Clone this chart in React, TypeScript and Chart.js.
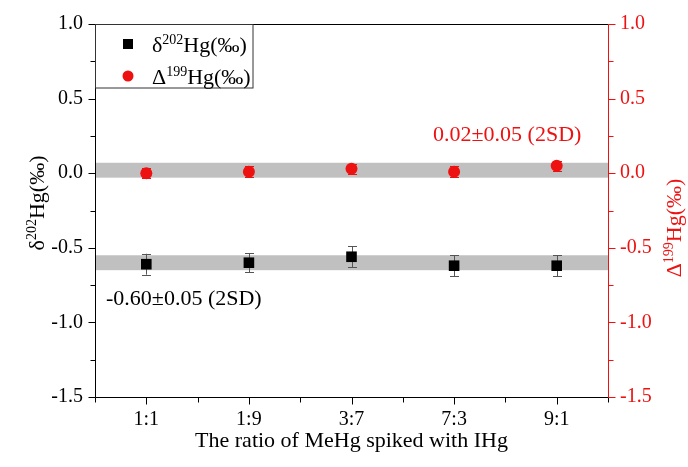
import React, { useEffect, useRef } from 'react';
import { Chart, registerables } from 'chart.js';

Chart.register(...registerables);

const categories = ['1:1', '1:9', '3:7', '7:3', '9:1'];
const d202Values = [-0.61, -0.60, -0.56, -0.62, -0.62];
const d202Errors = [0.07, 0.065, 0.07, 0.07, 0.07];
const D199Values = [0.0, 0.01, 0.03, 0.01, 0.05];
const D199Errors = [0.035, 0.035, 0.035, 0.035, 0.035];
const d202Band = [-0.65, -0.55];
const D199Band = [-0.03, 0.07];
const yMin = -1.5;
const yMax = 1.0;
const d202Note = '-0.60±0.05 (2SD)';
const D199Note = '0.02±0.05 (2SD)';

const FONT = '"Liberation Serif", "Times New Roman", serif';
const RED = '#ee1111';

type Part = { t: string; sup?: boolean };

function drawRich(ctx: CanvasRenderingContext2D, parts: Part[], x: number, y: number, size: number, color: string, align: 'left' | 'center') {
  const supSize = Math.round(size * 0.62);
  let total = 0;
  const widths = parts.map((p) => {
    ctx.font = `${p.sup ? supSize : size}px ${FONT}`;
    const w = ctx.measureText(p.t).width;
    total += w;
    return w;
  });
  let cx = align === 'center' ? x - total / 2 : x;
  ctx.fillStyle = color;
  ctx.textBaseline = 'alphabetic';
  ctx.textAlign = 'left';
  parts.forEach((p, i) => {
    ctx.font = `${p.sup ? supSize : size}px ${FONT}`;
    ctx.fillText(p.t, cx, p.sup ? y - size * 0.38 : y);
    cx += widths[i];
  });
}

const d202Label: Part[] = [{ t: 'δ' }, { t: '202', sup: true }, { t: 'Hg(‰)' }];
const D199Label: Part[] = [{ t: 'Δ' }, { t: '199', sup: true }, { t: 'Hg(‰)' }];

const drawPlugin = {
  id: 'custom',
  beforeDatasetsDraw(chart: any) {
    const { ctx, chartArea: a, scales } = chart;
    const y = scales.y;
    const y1 = scales.y1;
    const x = scales.x;
    ctx.save();
    ctx.fillStyle = '#c0c0c0';
    const b1t = y.getPixelForValue(d202Band[1]);
    const b1b = y.getPixelForValue(d202Band[0]);
    ctx.fillRect(a.left, b1t, a.right - a.left, b1b - b1t);
    const b2t = y1.getPixelForValue(D199Band[1]);
    const b2b = y1.getPixelForValue(D199Band[0]);
    ctx.fillRect(a.left, b2t, a.right - a.left, b2b - b2t);

    const bars = (vals: number[], errs: number[], sc: any, color: string) => {
      ctx.strokeStyle = color;
      ctx.lineWidth = 1;
      vals.forEach((v, i) => {
        const px = Math.round(x.getPixelForValue(i + 1)) + 0.5;
        const top = sc.getPixelForValue(v + errs[i]);
        const bot = sc.getPixelForValue(v - errs[i]);
        ctx.beginPath();
        ctx.moveTo(px, top);
        ctx.lineTo(px, bot);
        ctx.moveTo(px - 4.5, Math.round(top) + 0.5);
        ctx.lineTo(px + 4.5, Math.round(top) + 0.5);
        ctx.moveTo(px - 4.5, Math.round(bot) + 0.5);
        ctx.lineTo(px + 4.5, Math.round(bot) + 0.5);
        ctx.stroke();
      });
    };
    bars(d202Values, d202Errors, y, '#555555');
    bars(D199Values, D199Errors, y1, RED);
    ctx.restore();
  },
  afterDraw(chart: any) {
    const { ctx, chartArea: a, scales } = chart;
    const y = scales.y;
    const y1 = scales.y1;
    const x = scales.x;
    ctx.save();
    ctx.lineWidth = 1;
    ctx.strokeStyle = '#000';
    ctx.beginPath();
    const L = Math.round(a.left) + 0.5;
    const R = Math.round(a.right) + 0.5;
    const T = Math.round(a.top) + 0.5;
    const B = Math.round(a.bottom) + 0.5;
    ctx.moveTo(L, T);
    ctx.lineTo(R, T);
    ctx.moveTo(L, T);
    ctx.lineTo(L, B);
    ctx.lineTo(R, B);
    for (let v = yMin; v <= yMax + 1e-9; v += 0.25) {
      const py = Math.round(y.getPixelForValue(v)) + 0.5;
      const major = Math.abs(v * 2 - Math.round(v * 2)) < 1e-6;
      ctx.moveTo(L, py);
      ctx.lineTo(L - (major ? 7 : 5), py);
    }
    for (let v = 0.5; v <= 5.5 + 1e-9; v += 0.5) {
      const px = Math.round(x.getPixelForValue(v)) + 0.5;
      const major = Math.abs(v - Math.round(v)) < 1e-6;
      ctx.moveTo(px, B);
      ctx.lineTo(px, B + (major ? 7 : 5));
    }
    ctx.stroke();
    ctx.strokeStyle = RED;
    ctx.beginPath();
    ctx.moveTo(R, T);
    ctx.lineTo(R, B);
    for (let v = yMin; v <= yMax + 1e-9; v += 0.25) {
      const py = Math.round(y1.getPixelForValue(v)) + 0.5;
      const major = Math.abs(v * 2 - Math.round(v * 2)) < 1e-6;
      ctx.moveTo(R, py);
      ctx.lineTo(R + (major ? 7 : 5), py);
    }
    ctx.stroke();

    ctx.save();
    ctx.translate(44, 203);
    ctx.rotate(-Math.PI / 2);
    drawRich(ctx, d202Label, 0, 0, 22, '#000', 'center');
    ctx.restore();
    ctx.save();
    ctx.translate(681, 228);
    ctx.rotate(-Math.PI / 2);
    drawRich(ctx, D199Label, 0, 0, 22, RED, 'center');
    ctx.restore();
    ctx.font = `22px ${FONT}`;
    ctx.fillStyle = '#000';
    ctx.textAlign = 'center';
    ctx.textBaseline = 'alphabetic';
    ctx.fillText('The ratio of MeHg spiked with IHg', (a.left + a.right) / 2, 447);

    ctx.textAlign = 'left';
    ctx.fillStyle = '#000';
    ctx.fillText(d202Note, 106, 305);
    ctx.fillStyle = RED;
    ctx.fillText(D199Note, 433, 141);

    ctx.strokeStyle = '#333';
    ctx.lineWidth = 1;
    ctx.fillStyle = '#fff';
    ctx.fillRect(L, T, 253 - L, 88 - T);
    ctx.strokeRect(L, T, 253 - L, 88 - T);
    ctx.fillStyle = '#000';
    ctx.fillRect(123, 39, 10, 10);
    drawRich(ctx, d202Label, 152, 52, 22, '#000', 'left');
    ctx.fillStyle = RED;
    ctx.beginPath();
    ctx.arc(128, 76, 5.5, 0, Math.PI * 2);
    ctx.fill();
    drawRich(ctx, D199Label, 152, 84, 22, '#000', 'left');
    ctx.restore();
  },
};

export default function App() {
  const ref = useRef<HTMLCanvasElement | null>(null);
  useEffect(() => {
    if (!ref.current) return;
    const chart = new Chart(ref.current, {
      type: 'scatter',
      data: {
        datasets: [
          {
            label: 'd202',
            data: d202Values.map((v, i) => ({ x: i + 1, y: v })),
            yAxisID: 'y',
            pointStyle: 'rect',
            pointRadius: 7.5,
            backgroundColor: '#000',
            borderColor: '#000',
            borderWidth: 0,
          },
          {
            label: 'D199',
            data: D199Values.map((v, i) => ({ x: i + 1, y: v })),
            yAxisID: 'y1',
            pointStyle: 'circle',
            pointRadius: 6,
            backgroundColor: RED,
            borderColor: RED,
            borderWidth: 0,
          },
        ],
      },
      options: {
        responsive: false,
        animation: false,
        layout: { padding: { top: 22, left: 0, right: 0, bottom: 0 } },
        plugins: { legend: { display: false }, tooltip: { enabled: false } },
        scales: {
          x: {
            type: 'linear',
            min: 0.5,
            max: 5.5,
            afterBuildTicks: (s: any) => {
              s.ticks = categories.map((_, i) => ({ value: i + 1 }));
            },
            afterFit: (s: any) => {
              s.height = 70;
            },
            grid: { display: false, drawTicks: false },
            border: { display: false },
            ticks: {
              padding: 11,
              color: '#000',
              font: { family: FONT, size: 20 },
              maxRotation: 0,
              callback: (v: any) => categories[Math.round(Number(v)) - 1] ?? '',
            },
          },
          y: {
            type: 'linear',
            position: 'left',
            min: yMin,
            max: yMax,
            afterFit: (s: any) => {
              s.width = 95;
            },
            grid: { display: false, drawTicks: false },
            border: { display: false },
            ticks: {
              stepSize: 0.5,
              padding: 12,
              color: '#000',
              font: { family: FONT, size: 20 },
              callback: (v: any) => Number(v).toFixed(1),
            },
          },
          y1: {
            type: 'linear',
            position: 'right',
            min: yMin,
            max: yMax,
            afterFit: (s: any) => {
              s.width = 80;
            },
            grid: { display: false, drawTicks: false },
            border: { display: false },
            ticks: {
              stepSize: 0.5,
              padding: 12,
              color: RED,
              font: { family: FONT, size: 20 },
              callback: (v: any) => Number(v).toFixed(1),
            },
          },
        },
      },
      plugins: [drawPlugin],
    });
    return () => chart.destroy();
  }, []);
  return (
    <div style={{ position: 'absolute', left: 0, top: 0, width: 688, height: 467, background: '#fff' }}>
      <canvas ref={ref} width={688} height={467} style={{ display: 'block' }} />
    </div>
  );
}
